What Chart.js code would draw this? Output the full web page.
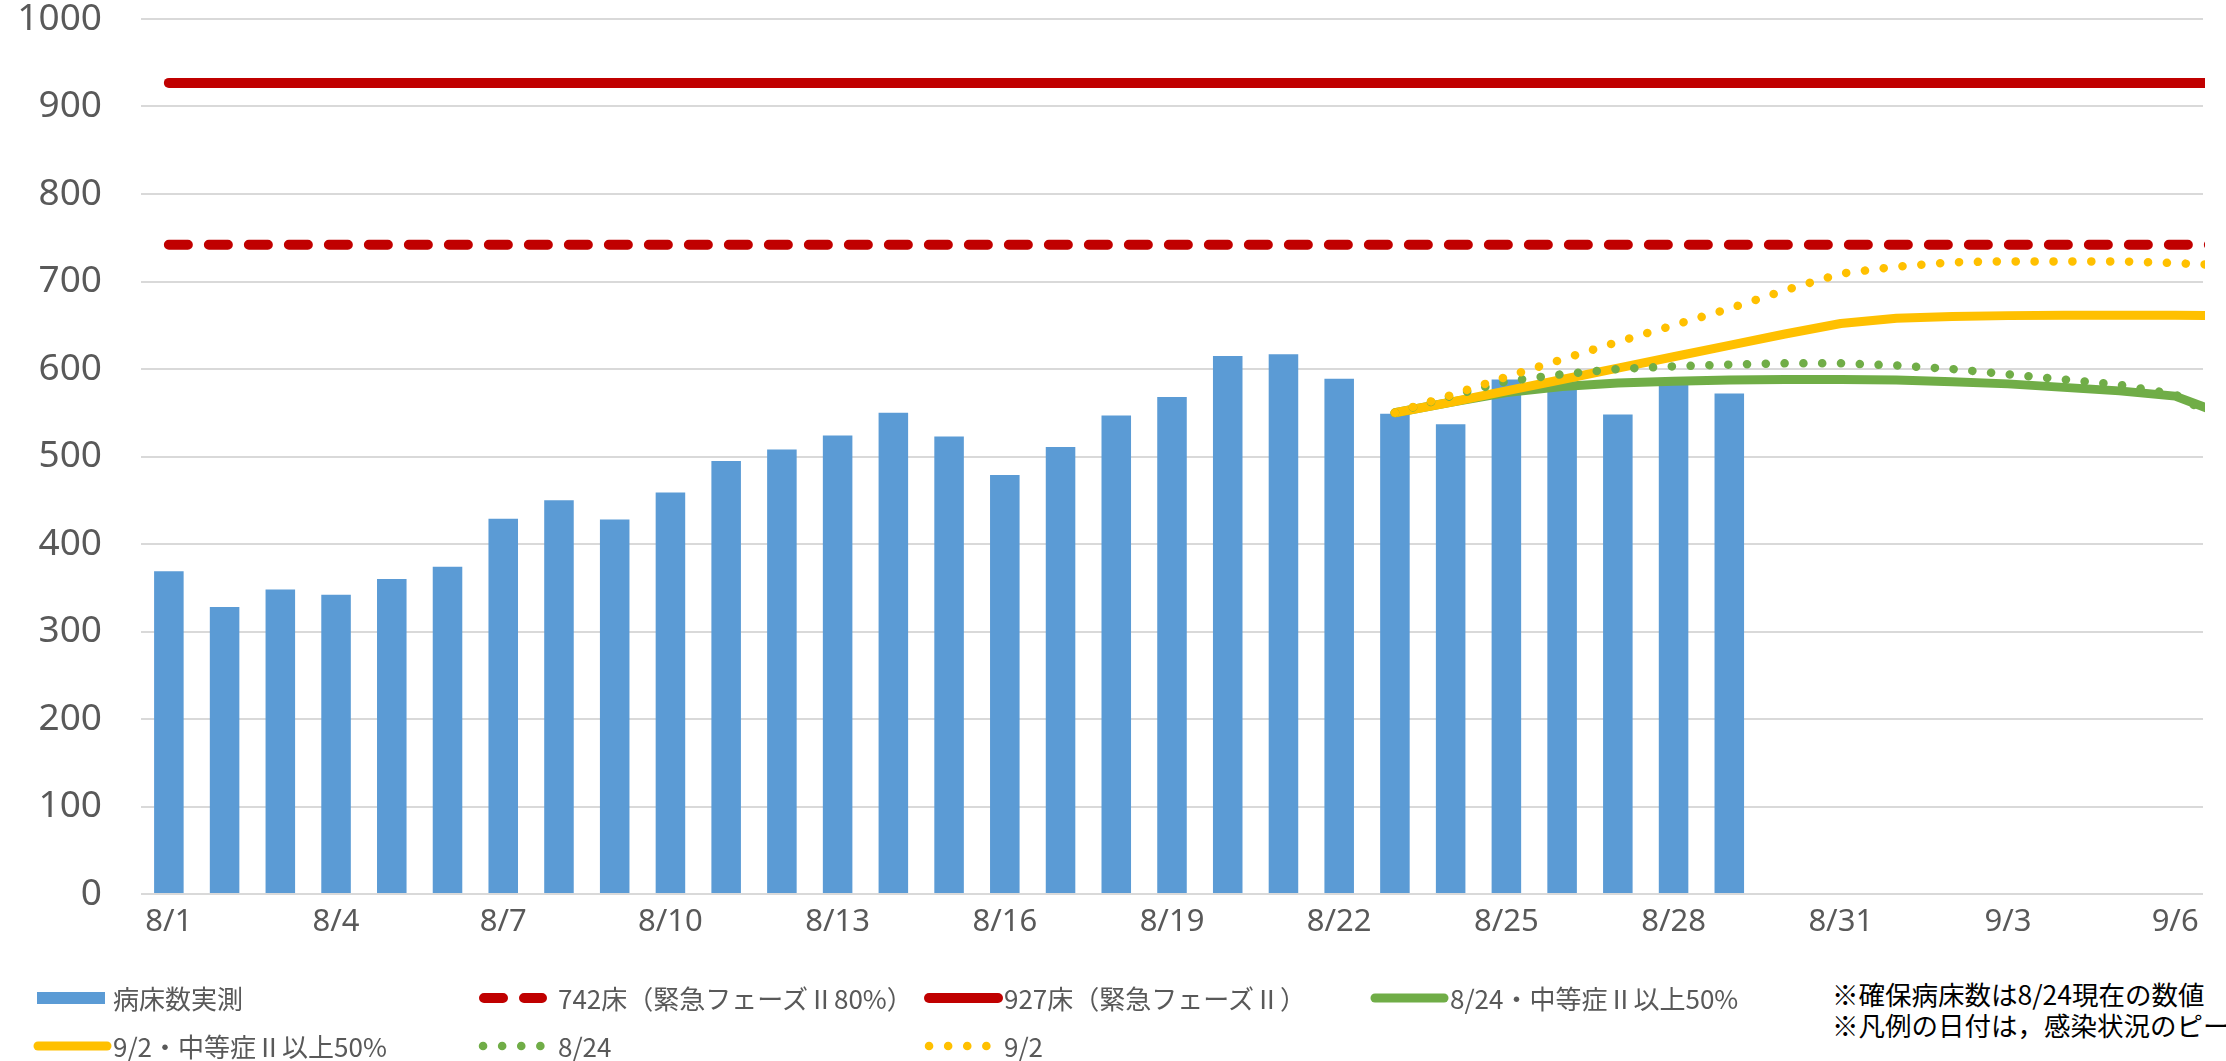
<!DOCTYPE html>
<html lang="ja">
<head>
<meta charset="utf-8">
<title>病床数実測と推計</title>
<script src="https://cdn.jsdelivr.net/npm/chart.js@4.4.1/dist/chart.umd.min.js"></script>
<style>
  html, body { margin: 0; padding: 0; background: #fff; overflow: hidden; }
  #wrap { position: relative; width: 2226px; height: 1061px; overflow: hidden; }
  #chartBox { position: absolute; left: 0; top: 0; width: 2226px; height: 960px; }
  .lg-item { position: absolute; height: 40px; white-space: nowrap;
    font-family: "Noto Sans CJK JP", sans-serif; font-size: 26px; color: #595959; }
  .lg-item canvas { position: absolute; left: -5px; top: 0; }
  .lg-item span { position: absolute; left: 79px; top: 20px; transform: translateY(-50%); line-height: 1; }
  #note { position: absolute; left: 1832px; top: 978px; white-space: nowrap;
    font-family: "Noto Sans CJK JP", sans-serif; font-size: 26.5px; line-height: 31px; color: #000; }
</style>
</head>
<body>
<div id="wrap">
  <div id="chartBox"><canvas id="bed-chart"></canvas></div>
  <div id="legend"></div>
  <div id="note">※確保病床数は8/24現在の数値<br>※凡例の日付は，感染状況のピーク時期を示す</div>
</div>
<script>
// x axis categories (9/7 lies past the right edge, the lines run out to it)
const days = [
  "8/1", "8/2", "8/3", "8/4", "8/5", "8/6", "8/7", "8/8", "8/9", "8/10",
  "8/11", "8/12", "8/13", "8/14", "8/15", "8/16", "8/17", "8/18", "8/19", "8/20",
  "8/21", "8/22", "8/23", "8/24", "8/25", "8/26", "8/27", "8/28", "8/29", "8/30",
  "8/31", "9/1", "9/2", "9/3", "9/4", "9/5", "9/6", "9/7"
];
const lastShownDay = "9/6";

// measured beds in use, 8/1 - 8/29
const bedsMeasured = [
  369, 328, 348, 342, 360, 374, 429, 450, 428, 459,
  495, 508, 524, 550, 523, 479, 511, 547, 568, 615,
  617, 589, 549, 537, 588, 582, 548, 582, 572
];

// bed capacity levels
const beds80 = 742;
const bedsMax = 927;

// projections, 8/23 - 9/7
const projStart = 22;
const proj0824Moderate = [550, 562, 573, 580, 584, 586, 587.5, 588, 588, 587.5, 585.5, 583, 579, 575, 569, 545];
const proj0902Moderate = [550, 562, 575, 588, 601, 614, 627, 640, 652, 658, 660, 661, 661.5, 661.5, 661.5, 661];
const proj0824 = [550, 569, 586, 594, 600, 603, 605, 606.5, 606.5, 604, 600, 594, 588, 582, 571, 535];
const proj0902 = [550, 570, 591, 611, 631, 650, 669, 690, 709, 717, 722, 723, 723, 723, 721, 718];

const yMax = 1000;
const yStep = 100;

const toPoints = (vals) => vals.map((v, i) => ({ x: days[projStart + i], y: v }));
const flatLine = (v) => [{ x: days[0], y: v }, { x: days[days.length - 1], y: v }];

const lineBase = {
  type: "line",
  pointRadius: 0,
  pointHoverRadius: 0,
  fill: false,
  tension: 0,
  borderCapStyle: "round",
  borderJoinStyle: "round",
  clip: { left: 20, top: 20, right: 2, bottom: 20 },
};

const ctx = document.getElementById("bed-chart").getContext("2d");
const chart = new Chart(ctx, {
  type: "bar",
  data: {
    labels: days,
    datasets: [
      {
        type: "bar",
        label: "病床数実測",
        data: bedsMeasured,
        backgroundColor: "#5B9BD5",
        barPercentage: 0.53,
        categoryPercentage: 1,
        order: 7,
      },
      Object.assign({}, lineBase, {
        label: "742床（緊急フェーズⅡ80%）",
        data: flatLine(beds80),
        borderColor: "#C00000",
        borderWidth: 10,
        borderDash: [19, 21],
        order: 6,
      }),
      Object.assign({}, lineBase, {
        label: "927床（緊急フェーズⅡ）",
        data: flatLine(bedsMax),
        borderColor: "#C00000",
        borderWidth: 10,
        order: 5,
      }),
      Object.assign({}, lineBase, {
        label: "8/24・中等症Ⅱ以上50%",
        data: toPoints(proj0824Moderate),
        borderColor: "#70AD47",
        borderWidth: 9,
        order: 4,
      }),
      Object.assign({}, lineBase, {
        label: "9/2・中等症Ⅱ以上50%",
        data: toPoints(proj0902Moderate),
        borderColor: "#FFC000",
        borderWidth: 9,
        order: 3,
      }),
      Object.assign({}, lineBase, {
        label: "8/24",
        data: toPoints(proj0824),
        borderColor: "#70AD47",
        borderWidth: 8.5,
        borderDash: [0.1, 18.7],
        order: 2,
      }),
      Object.assign({}, lineBase, {
        label: "9/2",
        data: toPoints(proj0902),
        borderColor: "#FFC000",
        borderWidth: 8.5,
        borderDash: [0.1, 18.8],
        order: 1,
      }),
    ],
  },
  options: {
    responsive: true,
    maintainAspectRatio: false,
    animation: false,
    layout: { padding: { top: 19, right: 23, bottom: 0, left: 0 } },
    plugins: {
      legend: { display: false },
      tooltip: { enabled: false },
    },
    scales: {
      x: {
        grid: { display: false },
        border: { display: false },
        ticks: {
          autoSkip: false,
          maxRotation: 0,
          padding: 2,
          color: "#595959",
          font: { family: "'Noto Sans', sans-serif", size: 31 },
          callback: function (value, index) {
            return index % 3 === 0 ? this.getLabelForValue(value) : "";
          },
        },
        // stop the axis at 9/6 but keep drawing the lines on toward 9/7 (clipped)
        afterDataLimits: (scale) => {
          scale.max = days.indexOf(lastShownDay);
        },
        afterFit: (scale) => {
          scale.height = 66;
          scale.paddingLeft = 0;
          scale.paddingRight = 0;
        },
      },
      y: {
        min: 0,
        max: yMax,
        border: { display: false },
        grid: { color: "#D9D9D9", lineWidth: 2, drawTicks: false },
        ticks: {
          stepSize: yStep,
          padding: 39,
          color: "#595959",
          font: { family: "'Noto Sans', sans-serif", size: 37 },
          callback: (value) => String(value),
        },
        afterFit: (scale) => {
          scale.width = 141;
          scale.paddingTop = 0;
          scale.paddingBottom = 0;
        },
      },
    },
  },
});

// legend laid out in columns like the original
const legendCols = [34, 479, 925, 1371];
const legendRows = [998, 1046];
const legendSlots = [[0, 0], [1, 0], [2, 0], [3, 0], [0, 1], [1, 1], [2, 1]];

const legendBox = document.getElementById("legend");
chart.data.datasets.forEach((ds, i) => {
  const [c, r] = legendSlots[i];
  const item = document.createElement("div");
  item.className = "lg-item";
  item.style.left = legendCols[c] + "px";
  item.style.top = legendRows[r] - 20 + "px";

  const cv = document.createElement("canvas");
  cv.width = 90;
  cv.height = 40;
  const g = cv.getContext("2d");
  const o = 5;
  if (ds.type === "bar") {
    g.fillStyle = ds.backgroundColor;
    g.fillRect(o + 3, 14, 68, 12);
  } else {
    const dash = ds.borderDash || [];
    g.strokeStyle = ds.borderColor;
    g.lineWidth = ds.borderWidth;
    g.lineCap = "round";
    g.setLineDash(dash);
    g.beginPath();
    if (dash.length === 0) {
      g.moveTo(o + 4, 20);
      g.lineTo(o + 73, 20);
    } else if (dash[0] > 1) {
      g.moveTo(o + 5, 20);
      g.lineTo(o + 63, 20);
    } else {
      g.setLineDash([0.1, 19]);
      g.moveTo(o + 4, 20);
      g.lineTo(o + 63, 20);
    }
    g.stroke();
  }
  item.appendChild(cv);

  const txt = document.createElement("span");
  txt.textContent = ds.label;
  item.appendChild(txt);
  legendBox.appendChild(item);
});
</script>
</body>
</html>
